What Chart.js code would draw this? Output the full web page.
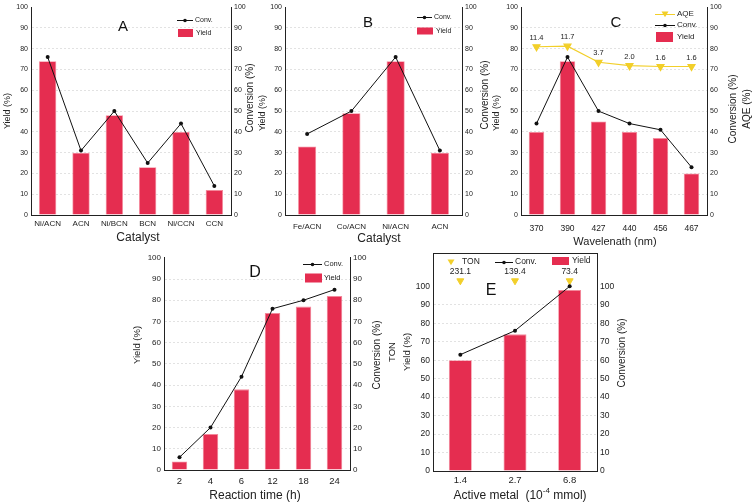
<!DOCTYPE html>
<html><head><meta charset="utf-8">
<script src="https://cdn.jsdelivr.net/npm/chart.js@4.4.1/dist/chart.umd.min.js"></script>
<style>
html,body{margin:0;padding:0;background:#fff;}
#wrap{position:relative;width:755px;height:504px;overflow:hidden;background:#fff;}
canvas{position:absolute;}
</style></head><body>
<div id="wrap">
<canvas id="cA" width="256" height="250" style="left:0px;top:0px"></canvas>
<canvas id="cB" width="249" height="250" style="left:256px;top:0px"></canvas>
<canvas id="cC" width="250" height="250" style="left:505px;top:0px"></canvas>
<canvas id="cD" width="285" height="254" style="left:100px;top:250px"></canvas>
<canvas id="cE" width="250" height="259" style="left:385px;top:245px"></canvas>
</div>
<script>
// ---------- data ----------
const catalystsA = ['Ni/ACN','ACN','Ni/BCN','BCN','Ni/CCN','CCN'];
const yieldA = [74, 30, 48, 23, 40, 12];
const convA  = [76, 31, 50, 25, 44, 14];

const catalystsB = ['Fe/ACN','Co/ACN','Ni/ACN','ACN'];
const yieldB = [33, 49, 74, 30];
const convB  = [39, 50, 76, 31];

const wavelengthsC = ['370','390','427','440','456','467'];
const yieldC = [40, 74, 45, 40, 37, 20];
const convC  = [44, 76, 50, 44, 41, 23];
const aqeC   = [11.4, 11.7, 3.7, 2.0, 1.6, 1.6];

const timesD = ['2','4','6','12','18','24'];
const yieldD = [4, 17, 38, 74, 77, 82];
const convD  = [6, 20, 44, 76, 80, 85];

const metalE = ['1.4','2.7','6.8'];
const yieldE = [60, 74, 98];
const convE  = [63, 76, 100];
const tonE   = [231.1, 139.4, 73.4];
const TON_ROW = 103; // row on the yield scale where TON markers sit

const yTicks = [0,10,20,30,40,50,60,70,80,90,100];

// ---------- style ----------
const FONT = "'Liberation Sans', Arial, Helvetica, sans-serif";
const BAR_FILL = '#e52d50';
const BAR_EDGE = '#f58a9c';
const INK = '#222';
const YEL = '#f2cf2a';

const decor = {
  id: 'decor',
  afterDraw(chart, args, o) {
    const ctx = chart.ctx, ca = chart.chartArea;
    ctx.save();
    if (o.topBorder) {
      ctx.strokeStyle = INK; ctx.lineWidth = 1;
      ctx.beginPath(); ctx.moveTo(ca.left, Math.round(ca.top)+0.5); ctx.lineTo(ca.right, Math.round(ca.top)+0.5); ctx.stroke();
    }
    (o.pointLabels || []).forEach(pl => {
      const meta = chart.getDatasetMeta(pl.dataset);
      ctx.font = pl.size + 'px ' + FONT; ctx.fillStyle = INK;
      ctx.textAlign = 'center'; ctx.textBaseline = 'middle';
      meta.data.forEach((el, i) => ctx.fillText(pl.labels[i], el.x, el.y + pl.dy));
    });
    (o.titles || []).forEach(t => {
      ctx.save(); ctx.translate(t.x, t.y); if (t.rot) ctx.rotate(t.rot * Math.PI / 180);
      ctx.fillStyle = t.color || INK; ctx.textBaseline = 'middle';
      if (t.parts) {
        let w = 0;
        t.parts.forEach(p => { ctx.font = p.size + 'px ' + FONT; w += ctx.measureText(p.text).width; });
        let x = -w / 2; ctx.textAlign = 'left';
        t.parts.forEach(p => { ctx.font = p.size + 'px ' + FONT; ctx.fillText(p.text, x, p.dy || 0); x += ctx.measureText(p.text).width; });
      } else {
        ctx.font = t.size + 'px ' + FONT; ctx.textAlign = 'center';
        ctx.fillText(t.text, 0, 0);
      }
      ctx.restore();
    });
    (o.legend || []).forEach(it => {
      if (it.type === 'line' || it.type === 'aqe') {
        ctx.strokeStyle = it.type === 'aqe' ? YEL : '#111'; ctx.lineWidth = 1;
        ctx.beginPath(); ctx.moveTo(it.x1, it.y + 0.5); ctx.lineTo(it.x2, it.y + 0.5); ctx.stroke();
        const cx = (it.x1 + it.x2) / 2;
        if (it.type === 'aqe') { tri(ctx, cx, it.y, 3.5); }
        else { ctx.fillStyle = '#111'; ctx.beginPath(); ctx.arc(cx, it.y + 0.5, 1.8, 0, Math.PI * 2); ctx.fill(); }
      } else if (it.type === 'bar') {
        ctx.fillStyle = BAR_FILL; ctx.fillRect(it.x1, it.y - it.h / 2, it.x2 - it.x1, it.h);
      } else if (it.type === 'tri') {
        tri(ctx, it.x1, it.y, 3.5);
      }
      ctx.font = (it.size || 7) + 'px ' + FONT; ctx.fillStyle = INK;
      ctx.textAlign = 'left'; ctx.textBaseline = 'middle';
      ctx.fillText(it.label, it.tx, it.y);
    });
    if (o.letter) {
      ctx.font = o.letter.size + 'px ' + FONT; ctx.fillStyle = '#111';
      ctx.textAlign = 'center'; ctx.textBaseline = 'middle';
      ctx.fillText(o.letter.text, o.letter.x, o.letter.y);
    }
    ctx.restore();
  }
};
function tri(ctx, cx, cy, r) {
  ctx.fillStyle = YEL;
  ctx.beginPath(); ctx.moveTo(cx - r, cy - r * 0.7); ctx.lineTo(cx + r, cy - r * 0.7); ctx.lineTo(cx, cy + r * 0.9); ctx.closePath(); ctx.fill();
}
Chart.register(decor);

function makeScales(s) {
  const ymax = s.ymax || 100;
  return {
    x: {
      type: 'category', offset: true,
      grid: { display: false, drawTicks: false },
      border: { color: INK, width: 1 },
      ticks: { color: INK, font: { family: FONT, size: s.xtSize }, padding: s.xPad, maxRotation: 0, autoSkip: false },
      afterFit: sc => { sc.height = s.xH; }
    },
    y: {
      position: 'left', min: 0, max: ymax,
      afterBuildTicks: sc => { sc.ticks = yTicks.map(v => ({ value: v })); },
      ticks: { color: INK, font: { family: FONT, size: s.ytSize }, padding: 3 },
      grid: { drawTicks: false, lineWidth: 1, color: c => (c.tick && c.tick.value > 0 && c.tick.value < 100) ? '#e2e2e2' : 'rgba(0,0,0,0)' },
      border: { color: INK, width: 1, dash: [2, 2] },
      afterFit: sc => { sc.width = s.yW; }
    },
    y1: {
      position: 'right', min: 0, max: ymax,
      afterBuildTicks: sc => { sc.ticks = yTicks.map(v => ({ value: v })); },
      ticks: { color: INK, font: { family: FONT, size: s.ytSize }, padding: 3 },
      grid: { display: false, drawTicks: false },
      border: { color: INK, width: 1 },
      afterFit: sc => { sc.width = s.y1W; }
    }
  };
}
function barSet(data, pct) {
  return { type: 'bar', data, yAxisID: 'y', backgroundColor: BAR_FILL, borderColor: BAR_EDGE, borderWidth: 0.8,
           barPercentage: pct, categoryPercentage: 1, order: 3 };
}
function convSet(data) {
  return { type: 'line', data, yAxisID: 'y1', borderColor: '#111', borderWidth: 1, pointRadius: 2,
           pointBackgroundColor: '#111', pointBorderWidth: 0, tension: 0, order: 1 };
}
function base(labels, datasets, scales, padTop, decorOpts) {
  return {
    type: 'bar',
    data: { labels, datasets },
    options: {
      responsive: false, animation: false, devicePixelRatio: 1,
      layout: { padding: { top: padTop, left: 0, right: 0, bottom: 0 } },
      scales,
      plugins: { legend: { display: false }, tooltip: { enabled: false }, decor: decorOpts }
    }
  };
}

// ---------- A ----------
new Chart(document.getElementById('cA'), base(catalystsA,
  [barSet(yieldA, 0.52), convSet(convA)],
  makeScales({ xtSize: 8, xPad: 4, xH: 35, ytSize: 7, yW: 31, y1W: 25 }), 5, {
    letter: { text: 'A', x: 123, y: 27, size: 15 },
    titles: [
      { text: 'Yield (%)', x: 8, y: 111, rot: -90, size: 9 },
      { text: 'Conversion (%)', x: 250, y: 98, rot: -90, size: 10 },
      { text: 'Catalyst', x: 138, y: 238, size: 12 }
    ],
    legend: [
      { type: 'line', x1: 177, x2: 193, y: 20, tx: 195, label: 'Conv.' },
      { type: 'bar', x1: 178, x2: 193, y: 33, h: 8, tx: 196, label: 'Yield' }
    ]
  }));

// ---------- B ----------
new Chart(document.getElementById('cB'), base(catalystsB,
  [barSet(yieldB, 0.41), convSet(convB)],
  makeScales({ xtSize: 8, xPad: 7, xH: 35, ytSize: 7, yW: 29, y1W: 43 }), 5, {
    letter: { text: 'B', x: 112, y: 23, size: 15 },
    titles: [
      { text: 'Yield (%)', x: 7, y: 113, rot: -90, size: 9 },
      { text: 'Conversion (%)', x: 229, y: 95, rot: -90, size: 10 },
      { text: 'Yield (%)', x: 241, y: 113, rot: -90, size: 9 },
      { text: 'Catalyst', x: 123, y: 239, size: 12 }
    ],
    legend: [
      { type: 'line', x1: 161, x2: 176, y: 17, tx: 178, label: 'Conv.' },
      { type: 'bar', x1: 161, x2: 177, y: 31, h: 7, tx: 180, label: 'Yield' }
    ]
  }));

// ---------- C ----------
const scC = makeScales({ xtSize: 8.5, xPad: 9, xH: 35, ytSize: 7, yW: 16, y1W: 48 });
scC.yAqe = { display: false, min: -72, max: 31 };
new Chart(document.getElementById('cC'), base(wavelengthsC,
  [barSet(yieldC, 0.5), convSet(convC),
   { type: 'line', data: aqeC, yAxisID: 'yAqe', borderColor: YEL, borderWidth: 1.2, pointStyle: 'triangle',
     pointRotation: 180, pointRadius: 4, pointBackgroundColor: YEL, pointBorderColor: YEL, tension: 0, order: 2 }],
  scC, 5, {
    letter: { text: 'C', x: 111, y: 23, size: 15 },
    pointLabels: [{ dataset: 2, labels: aqeC.map(v => v.toFixed(1)), dy: -9, size: 7.5 }],
    titles: [
      { text: 'Conversion (%)', x: 228, y: 109, rot: -90, size: 10 },
      { text: 'AQE (%)', x: 242, y: 109, rot: -90, size: 10 },
      { text: 'Wavelenath (nm)', x: 110, y: 242, size: 11 }
    ],
    legend: [
      { type: 'aqe', x1: 150, x2: 170, y: 14, tx: 172, label: 'AQE', size: 8 },
      { type: 'line', x1: 150, x2: 170, y: 25, tx: 172, label: 'Conv.', size: 8 },
      { type: 'bar', x1: 151, x2: 168, y: 37, h: 10, tx: 172, label: 'Yield', size: 8 }
    ]
  }));

// ---------- D ----------
new Chart(document.getElementById('cD'), base(timesD,
  [barSet(yieldD, 0.5), convSet(convD)],
  makeScales({ xtSize: 9.5, xPad: 6, xH: 34, ytSize: 8, yW: 64, y1W: 35 }), 7, {
    letter: { text: 'D', x: 155, y: 23, size: 16 },
    titles: [
      { text: 'Yield (%)', x: 37, y: 95, rot: -90, size: 9.5 },
      { text: 'Conversion (%)', x: 277, y: 105, rot: -90, size: 10 },
      { text: 'Reaction time (h)', x: 155, y: 246, size: 12 }
    ],
    legend: [
      { type: 'line', x1: 203, x2: 222, y: 14, tx: 224, label: 'Conv.', size: 7.5 },
      { type: 'bar', x1: 205, x2: 222, y: 28, h: 9, tx: 224, label: 'Yield', size: 7.5 }
    ]
  }));

// ---------- E ----------
new Chart(document.getElementById('cE'), base(metalE,
  [barSet(yieldE, 0.42), convSet(convE),
   { type: 'line', data: tonE.map(() => TON_ROW), yAxisID: 'y', showLine: false, pointStyle: 'triangle',
     pointRotation: 180, pointRadius: 4, pointBackgroundColor: YEL, pointBorderColor: YEL, order: 2 }],
  makeScales({ xtSize: 9.5, xPad: 4, xH: 33, ytSize: 8.5, yW: 48, y1W: 38, ymax: 118 }), 8, {
    letter: { text: 'E', x: 106, y: 46, size: 16 },
    topBorder: true,
    pointLabels: [{ dataset: 2, labels: tonE.map(v => v.toFixed(1)), dy: -9, size: 8.5 }],
    titles: [
      { text: 'TON', x: 7, y: 107, rot: -90, size: 9.5 },
      { text: 'Yield (%)', x: 22, y: 107, rot: -90, size: 9.5 },
      { text: 'Conversion (%)', x: 237, y: 108, rot: -90, size: 10 },
      { x: 135, y: 251, parts: [
        { text: 'Active metal  (10', size: 12 },
        { text: '-4', size: 8, dy: -5 },
        { text: ' mmol)', size: 12 }
      ] }
    ],
    legend: [
      { type: 'tri', x1: 66, y: 17, tx: 77, label: 'TON', size: 8.5 },
      { type: 'line', x1: 110, x2: 128, y: 17, tx: 130, label: 'Conv.', size: 8.5 },
      { type: 'bar', x1: 167, x2: 184, y: 16, h: 8, tx: 187, label: 'Yield', size: 8.5 }
    ]
  }));
</script>
</body></html>
